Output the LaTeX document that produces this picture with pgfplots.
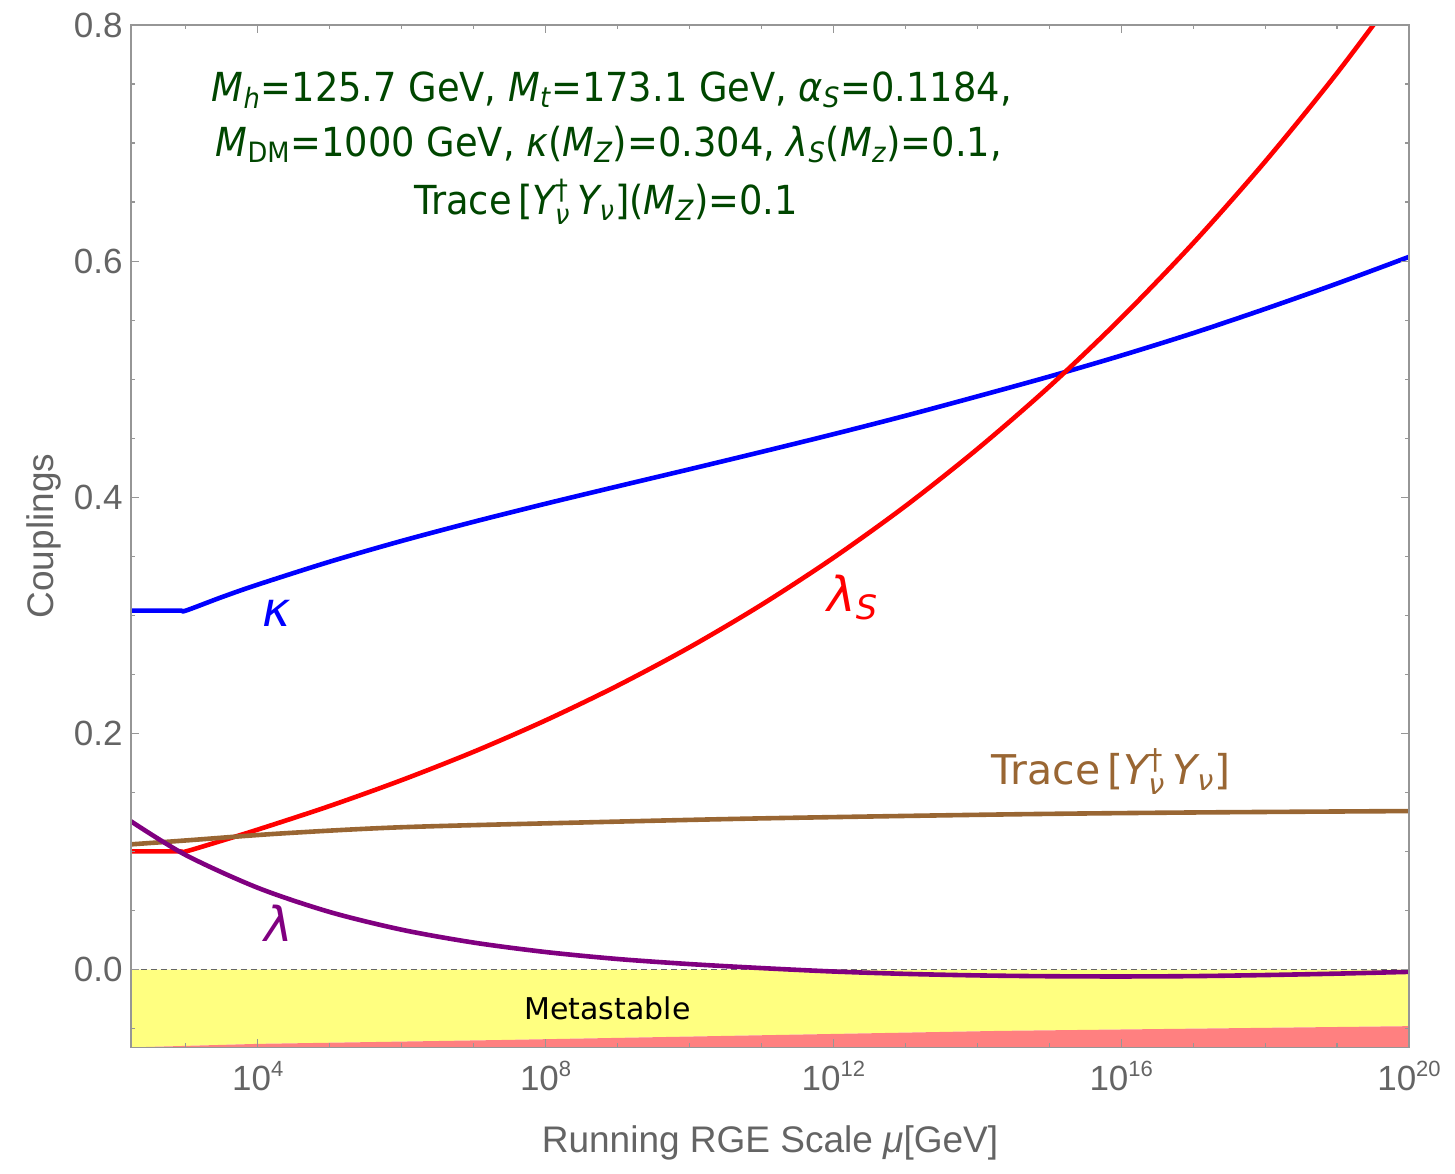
\documentclass[border=0pt]{standalone}
\usepackage{amsmath}
\usepackage{fontspec}
\setmainfont{Liberation Sans}
\newfontfamily\djv{DejaVu Sans}
\newfontfamily\djvc[FakeStretch=0.92]{DejaVu Sans}
\usepackage{pgfplots}
\usepackage{pgfplotstable}
\pgfplotsset{compat=1.18}

\definecolor{kappablue}{RGB}{0,0,255}
\definecolor{lsred}{RGB}{255,0,0}
\definecolor{trbrown}{RGB}{153,102,51}
\definecolor{lampurple}{RGB}{128,0,128}
\definecolor{anngreen}{RGB}{0,70,0}
\definecolor{metayellow}{RGB}{255,255,128}
\definecolor{unstred}{RGB}{255,128,128}
\definecolor{framegray}{RGB}{150,150,150}
\definecolor{labelgray}{RGB}{100,100,100}

% x column: log10(mu/GeV)
\pgfplotstableread{
d v
2.238 0.304
2.9 0.304
3.0 0.304
3.5 0.3154
4 0.3260
5 0.3454
6 0.3630
7 0.3792
8 0.3945
9 0.4092
10 0.4237
11 0.4384
12 0.4534
13 0.4690
14 0.4854
15 0.5022
16 0.5200
17 0.5390
18 0.5595
19 0.5810
20 0.6036
}\kappatab

\pgfplotstableread{
d v
2.238 0.1
2.9 0.1
3.0 0.1
3.5 0.1091
4 0.1185
5 0.1385
6 0.1604
7 0.1844
8 0.2110
9 0.2404
10 0.2729
11 0.3089
12 0.3487
13 0.3925
14 0.4408
15 0.4937
16 0.5518
17 0.6152
18 0.6843
19 0.7593
20 0.8407
}\lamstab

\pgfplotstableread{
d v
2.238 0.106
3.0 0.1093
4.32 0.1152
6.0 0.1205
8.49 0.1245
11.0 0.128
14.45 0.1314
17.0 0.1330
20 0.1342
}\tracetab

\pgfplotstableread{
d v
2.238 0.1255
3 0.0969
4 0.0692
5 0.0487
6 0.0337
7 0.0228
8 0.0148
9 0.0089
10 0.0046
11 0.0012
12 -0.0017
13 -0.0037
14 -0.0050
15 -0.0057
16 -0.0059
17 -0.0056
18 -0.0047
19 -0.0035
20 -0.0020
}\lamtab

\newcommand{\tenp}[1]{10\raisebox{7pt}{\fontsize{11}{11}\selectfont #1}}
\newcommand{\YdY}{{\itshape Y}$^{\text{\textdagger}}_{\text{\itshape ν}}$\,{\itshape Y}\textsubscript{\itshape ν}}

\begin{document}
\begin{tikzpicture}
\path[use as bounding box] (-65.5pt,-62.85pt) rectangle (662pt,523.65pt);
\begin{axis}[
  at={(0pt,0pt)}, anchor=south west,
  scale only axis, width=639pt, height=511.15pt,
  xmin=2.238, xmax=20, ymin=-0.0659, ymax=0.8,
  axis on top,
  axis line style={draw=framegray, line width=0.7pt},
  xtick={4,8,12,16,20},
  xticklabels={\tenp{4},\tenp{8},\tenp{12},\tenp{16},\tenp{20}},
  minor xtick={3,5,6,7,9,10,11,13,14,15,17,18,19},
  ytick={0,0.2,0.4,0.6,0.8},
  yticklabels={0.0,0.2,0.4,0.6,0.8},
  minor ytick={-0.05,0.05,0.1,0.15,0.25,0.3,0.35,0.45,0.5,0.55,0.65,0.7,0.75},
  tick align=inside,
  major tick length=4pt, minor tick length=2.2pt,
  every tick/.style={draw=framegray, line width=0.6pt},
  tick label style={font=\fontsize{17.5}{20}\selectfont, text=labelgray},
  xticklabel style={anchor=base, yshift=-21.5pt},
  yticklabel style={anchor=east, inner sep=0pt, xshift=-4pt},
  xlabel={Running RGE Scale {\itshape μ}[GeV]},
  ylabel={Couplings},
  label style={font=\fontsize{18.5}{22}\selectfont, text=labelgray},
  xlabel style={at={(axis description cs:0.5,-0.1027)}, anchor=base},
  ylabel style={at={(axis description cs:-0.0610,0.5)}, anchor=base},
]
% stability regions
\addplot[draw=none, fill=metayellow] coordinates {
  (2.238,0) (20,0) (20,-0.048) (14.31,-0.052) (11.9,-0.0547) (7.4,-0.0597) (4,-0.063) (2.238,-0.066)
} -- cycle;
\addplot[draw=none, fill=unstred] coordinates {
  (2.238,-0.066) (4,-0.063) (7.4,-0.0597) (11.9,-0.0547) (14.31,-0.052) (20,-0.048) (20,-0.08) (2.238,-0.08)
} -- cycle;
\addplot[draw=black!60, line width=0.7pt, dash pattern=on 3pt off 2pt] coordinates {(2.238,0) (20,0)};

% running couplings
\addplot[kappablue, line width=2.3pt, smooth] table[x=d, y=v] {\kappatab};
\addplot[lsred, line width=2.3pt, smooth] table[x=d, y=v] {\lamstab};
\addplot[trbrown, line width=2.3pt, smooth] table[x=d, y=v] {\tracetab};
\addplot[lampurple, line width=2.3pt, smooth] table[x=d, y=v] {\lamtab};

% curve labels
\node[font=\djv\itshape\fontsize{24}{28}\selectfont, text=kappablue] at (axis cs:4.266,0.302) {κ};
\node[font=\djv\itshape\fontsize{24}{28}\selectfont, text=lampurple] at (axis cs:4.29,0.0394) {λ};
\node[font=\djv\itshape\fontsize{24}{28}\selectfont, text=lsred] at (axis cs:12.27,0.315) {λ\textsubscript{S}};
\node[font=\djv\fontsize{20.5}{24}\selectfont, text=trbrown] at (axis cs:15.86,0.1674)
  {Trace\,[\YdY]};
\node[font=\djv\fontsize{15}{18}\selectfont, text=black] at (axis cs:8.86,-0.033) {Metastable};

% input parameters
\node[anchor=base, font=\djvc\fontsize{20}{24}\selectfont, text=anngreen] at (axis cs:8.92,0.7352)
  {{\itshape M}\textsubscript{\itshape h}=125.7 GeV, {\itshape M}\textsubscript{\itshape t}=173.1 GeV, {\itshape α}\textsubscript{\itshape S}=0.1184,};
\node[anchor=base, font=\djvc\fontsize{20}{24}\selectfont, text=anngreen] at (axis cs:8.88,0.6886)
  {{\itshape M}\textsubscript{DM}=1000 GeV, {\itshape κ}({\itshape M}\textsubscript{\itshape Z})=0.304, {\itshape λ}\textsubscript{\itshape S}({\itshape M}\textsubscript{\itshape z})=0.1,};
\node[anchor=base, font=\djvc\fontsize{20}{24}\selectfont, text=anngreen] at (axis cs:8.84,0.6394)
  {Trace\,[\YdY]({\itshape M}\textsubscript{\itshape Z})=0.1};
\end{axis}
\end{tikzpicture}
\end{document}
